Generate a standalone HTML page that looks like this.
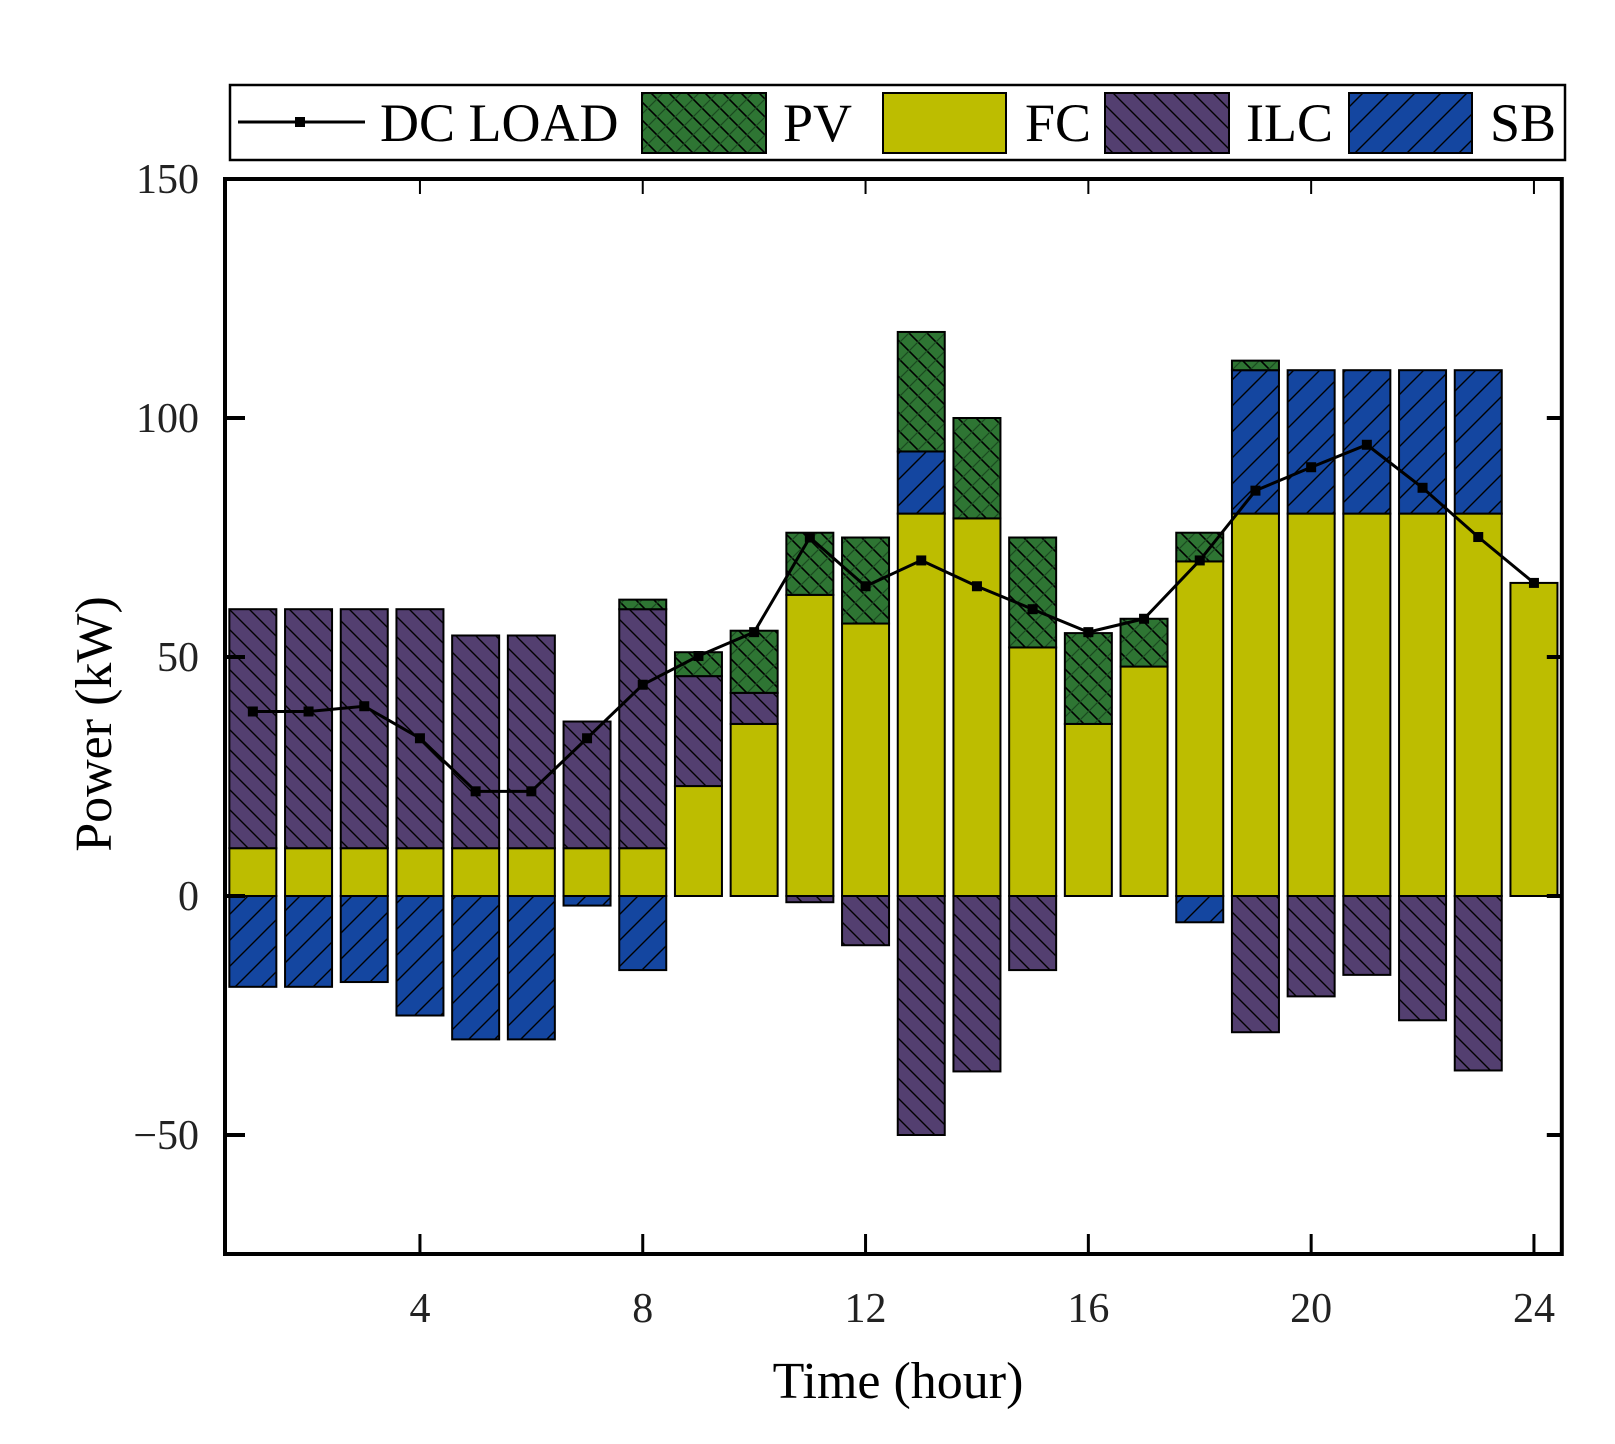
<!DOCTYPE html>
<html><head><meta charset="utf-8"><style>
html,body{margin:0;padding:0;background:#fff;}
svg{display:block;font-family:"Liberation Serif",serif;}
</style></head><body>
<svg id="chart" width="1615" height="1444" viewBox="0 0 1615 1444" xmlns="http://www.w3.org/2000/svg">
<defs>
<pattern id="pPV" width="18" height="18" patternUnits="userSpaceOnUse">
<rect width="18" height="18" fill="#2e7533"/>
<path d="M0,0L18,18M-2,16L2,20M16,-2L20,2" stroke="#000" stroke-width="1.6"/>
<path d="M18,0L0,18M-2,2L2,-2M16,20L20,16" stroke="#1a4a1f" stroke-width="1.2"/>
</pattern>
<pattern id="pILC" width="20" height="20" patternUnits="userSpaceOnUse">
<rect width="20" height="20" fill="#533f70"/>
<path d="M0,0L20,20M-5,15L5,25M15,-5L25,5" stroke="#000" stroke-width="1.4"/>
</pattern>
<pattern id="pSB" width="26" height="26" patternUnits="userSpaceOnUse">
<rect width="26" height="26" fill="#1446a0"/>
<path d="M0,26L26,0M-5,5L5,-5M21,31L31,21" stroke="#000" stroke-width="1.4"/>
</pattern>
</defs>
<g id="bars"></g>
<g id="loadline"></g>
<g id="axes"></g>
<g id="legend">
<rect x="230" y="85" width="1335" height="75" fill="#fff" stroke="#000" stroke-width="2.5"/>
<g>
<line x1="238" y1="122" x2="365" y2="122" stroke="#000" stroke-width="3"/>
<rect x="295" y="117" width="10" height="10" fill="#000"/>
<text x="380" y="141" font-size="54">DC LOAD</text></g>
<g>
<rect x="642" y="93" width="124" height="60" fill="url(#pPV)" stroke="#000" stroke-width="2"/>
<text x="783" y="141" font-size="54">PV</text></g>
<g>
<rect x="883" y="93" width="123" height="60" fill="#bdbd00" stroke="#000" stroke-width="2"/>
<text x="1025" y="141" font-size="54">FC</text></g>
<g>
<rect x="1105" y="93" width="124" height="60" fill="url(#pILC)" stroke="#000" stroke-width="2"/>
<text x="1246" y="141" font-size="54">ILC</text></g>
<g>
<rect x="1349" y="93" width="123" height="60" fill="url(#pSB)" stroke="#000" stroke-width="2"/>
<text x="1490" y="141" font-size="54">SB</text></g>
</g>
</svg>
<script>
const hours=[1,2,3,4,5,6,7,8,9,10,11,12,13,14,15,16,17,18,19,20,21,22,23,24];
const fc=[10,10,10,10,10,10,10,10,23,36,63,57,80,79,52,36,48,70,80,80,80,80,80,65.5];
const ilc=[50,50,50,50,44.5,44.5,26.5,50,23,6.5,-1.3,-10.3,-50,-36.7,-15.5,0,0,0,-28.5,-21,-16.5,-26,-36.5,0];
const sb=[-19,-19,-18,-25,-30,-30,-2,-15.5,0,0,0,0,13,0,0,0,0,-5.5,30,30,30,30,30,0];
const pv=[0,0,0,0,0,0,0,2,5,13,13,18,25,21,23,19,10,6,2,0,0,0,0,0];
const load=[38.6,38.6,39.7,33,21.9,21.9,33,44.2,50.2,55.2,75,64.8,70.2,64.8,60,55.2,58,70.2,84.8,89.7,94.4,85.4,75.1,65.5];
const xTicks=[4,8,12,16,20,24];
const yTicks=[150,100,50,0,-50];

const NS="http://www.w3.org/2000/svg";
const HW=55.7;
const L=225,R=L+24*HW,T=179,B=1254;
const xs=h=>L+(h-0.5)*HW;
const ys=v=>896-v*(239/50);
const BW=47;
function mk(tag,attrs,parent){const e=document.createElementNS(NS,tag);for(const k in attrs)e.setAttribute(k,attrs[k]);parent.appendChild(e);return e;}
const gb=document.getElementById('bars');
const series=[["fc",fc,"#bdbd00"],["ilc",ilc,"url(#pILC)"],["sb",sb,"url(#pSB)"],["pv",pv,"url(#pPV)"]];
hours.forEach((h,i)=>{
  let pos=0,neg=0;
  series.forEach(([nm,arr,fill])=>{
    const v=arr[i]; if(!v) return;
    let y0,y1;
    if(v>0){y0=pos;y1=pos+v;pos=y1;}else{y0=neg;y1=neg+v;neg=y1;}
    const top=ys(Math.max(y0,y1)),bot=ys(Math.min(y0,y1));
    const r=mk('rect',{x:xs(h)-BW/2,y:top,width:BW,height:bot-top,fill:fill,stroke:'#000','stroke-width':2},gb);
    
    
  });
});
const gl=document.getElementById('loadline');
const pts=hours.map((h,i)=>xs(h)+','+ys(load[i])).join(' ');
const pl=mk('polyline',{points:pts,fill:'none',stroke:'#000','stroke-width':3},gl);


hours.forEach((h,i)=>{
  const m=mk('rect',{x:xs(h)-5,y:ys(load[i])-5,width:10,height:10,fill:'#000'},gl);
  
  
});
const ga=document.getElementById('axes');
const fr=mk('rect',{x:L,y:T,width:R-L,height:B-T,fill:'none',stroke:'#000','stroke-width':4},ga);


xTicks.forEach(t=>{
  const x=xs(t);
  mk('line',{x1:x,y1:B,x2:x,y2:B-20,stroke:'#000','stroke-width':3},ga);
  mk('line',{x1:x,y1:T,x2:x,y2:T+15,stroke:'#000','stroke-width':2},ga);
  const tx=mk('text',{x:x,y:1322,'font-size':42,'text-anchor':'middle',fill:'#222'},ga);
  tx.textContent=t;
  
  
});
yTicks.forEach(t=>{
  const y=ys(t);
  if(t<150){
    mk('line',{x1:L,y1:y,x2:L+20,y2:y,stroke:'#000','stroke-width':4},ga);
    mk('line',{x1:R,y1:y,x2:R-15,y2:y,stroke:'#000','stroke-width':4},ga);
  }
  const tx=mk('text',{x:199,y:y+14,'font-size':42,'text-anchor':'end',fill:'#222'},ga);
  tx.textContent=(t<0?'\u2212'+(-t):t);
  
  
});
const xt=mk('text',{x:898,y:1398,'font-size':52,'text-anchor':'middle'},ga);
xt.textContent='Time (hour)';


const yt=mk('text',{x:0,y:0,'font-size':52,'text-anchor':'middle',transform:'translate(111,724) rotate(-90)'},ga);
yt.textContent='Power (kW)';


</script>
</body></html>
